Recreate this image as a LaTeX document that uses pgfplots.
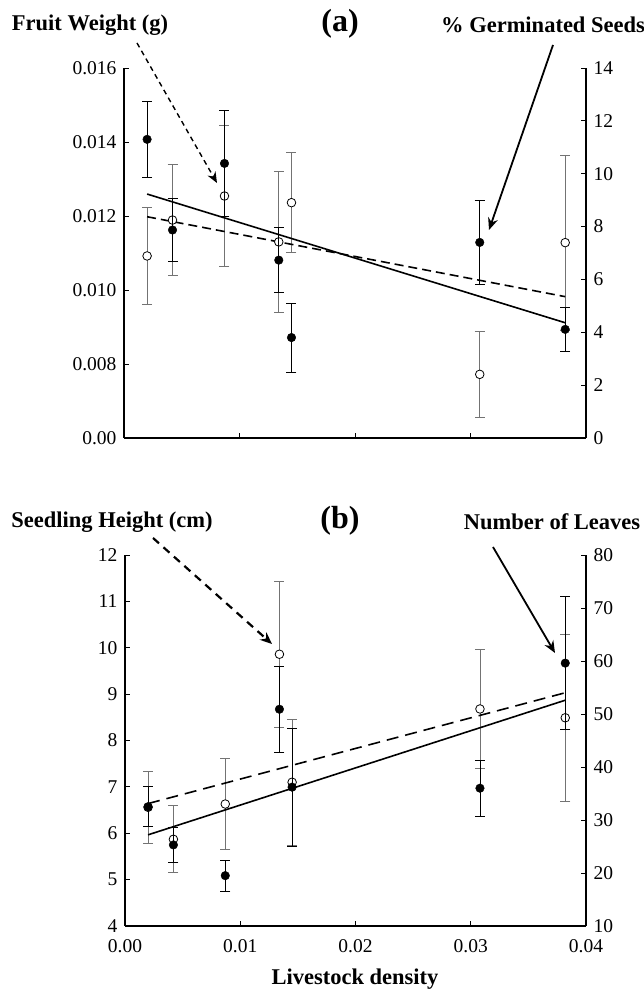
\documentclass[border=0pt]{standalone}
\usepackage{fontspec}
\setmainfont{Liberation Serif}
\usepackage{pgfplots}
\pgfplotsset{compat=1.18}
\usetikzlibrary{arrows.meta}

\pgfplotsset{
  panel/.style={
    scale only axis, width=462pt, height=370pt,
    xmin=0, xmax=0.04,
    anchor=south west,
    axis line style={line width=1.4pt, -},
    tick style={black, line width=0.8pt},
    major tick length=5pt,
    tick label style={font=\fontsize{19.5}{19.5}\selectfont},
    /pgf/number format/assume math mode=true,
    scaled ticks=false,
    clip=false,
  },
  openpts/.style={only marks, mark=*, mark size=4.3pt,
    mark options={fill=white, draw=black, line width=0.8pt},
    error bars/.cd, y dir=both, y explicit,
    error bar style={line width=0.8pt, black!55},
    error mark options={rotate=90, mark size=5pt, line width=0.8pt, black!55}},
  fullpts/.style={only marks, mark=*, mark size=4.3pt,
    mark options={fill=black, draw=black},
    error bars/.cd, y dir=both, y explicit,
    error bar style={line width=0.8pt, black},
    error mark options={rotate=90, mark size=5pt, line width=0.8pt, black}},
  leftax/.style={axis x line*=bottom, axis y line*=left,
    yticklabel style={xshift=-4pt}, xticklabel style={yshift=-10pt}},
  rightax/.style={axis x line=none, axis y line*=right,
    yticklabel style={xshift=4pt}},
}

\begin{document}
\begin{tikzpicture}[x=1pt,y=1pt]
\useasboundingbox (0,0) rectangle (644,990);

% ---------- panel (a) ----------
\begin{axis}[panel, leftax, at={(124pt,552pt)},
  ymin=0.006, ymax=0.016,
  ytick={0.006,0.008,0.010,0.012,0.014,0.016},
  yticklabels={0.00,0.008,0.010,0.012,0.014,0.016},
  xtick={0.01,0.02,0.03}, xticklabels={},
]
\addplot[openpts] coordinates {
  (0.0020,0.01092) +- (0,0.0013)
  (0.0042,0.01189) +- (0,0.0015)
  (0.0087,0.01254) +- (0,0.0019)
  (0.0134,0.01130) +- (0,0.0019)
  (0.0145,0.01236) +- (0,0.00135)
  (0.0308,0.00772) +- (0,0.00115)
  (0.0382,0.01128) +- (0,0.00237)
};
\addplot[black, line width=1.6pt, dash pattern=on 9pt off 5pt, no markers]
  coordinates {(0.0020,0.01198) (0.0382,0.00982)};
\end{axis}
\begin{axis}[panel, rightax, at={(124pt,552pt)},
  ymin=0, ymax=14, ytick={0,2,...,14},
]
\addplot[fullpts] coordinates {
  (0.0020,11.30) +- (0,1.43)
  (0.0042,7.87) +- (0,1.2)
  (0.0087,10.39) +- (0,2.02)
  (0.0134,6.73) +- (0,1.23)
  (0.0145,3.80) +- (0,1.3)
  (0.0308,7.40) +- (0,1.6)
  (0.0382,4.11) +- (0,0.85)
};
\addplot[black, line width=1.6pt, no markers]
  coordinates {(0.0020,9.23) (0.0382,4.36)};
\end{axis}

% ---------- panel (b) ----------
\begin{axis}[panel, leftax, at={(125pt,64pt)}, width=461pt, height=371pt,
  ymin=4, ymax=12, ytick={4,5,...,12},
  xtick={0,0.01,0.02,0.03,0.04},
  xticklabels={0.00,0.01,0.02,0.03,0.04},
]
\addplot[openpts] coordinates {
  (0.0020,6.56) +- (0,0.77)
  (0.0042,5.87) +- (0,0.72)
  (0.0087,6.63) +- (0,0.98)
  (0.0134,9.86) +- (0,1.57)
  (0.0145,7.10) +- (0,1.36)
  (0.0308,8.68) +- (0,1.28)
  (0.0382,8.49) +- (0,1.80)
};
\addplot[black, line width=1.6pt, dash pattern=on 12pt off 7pt, no markers]
  coordinates {(0.0020,6.64) (0.0382,9.03)};
\end{axis}
\begin{axis}[panel, rightax, at={(125pt,64pt)}, width=461pt, height=371pt,
  ymin=10, ymax=80, ytick={10,20,...,80},
]
\addplot[fullpts] coordinates {
  (0.0020,32.5) +- (0,3.8)
  (0.0042,25.3) +- (0,3.3)
  (0.0087,19.5) +- (0,2.9)
  (0.0134,50.9) +- (0,8.1)
  (0.0145,36.2) +- (0,11.1)
  (0.0308,36.0) +- (0,5.3)
  (0.0382,59.6) +- (0,12.6)
};
\addplot[black, line width=1.6pt, no markers]
  coordinates {(0.0020,27.2) (0.0382,52.6)};
\end{axis}

% titles and arrows
\begin{scope}[font=\fontsize{22.5}{22.5}\selectfont\bfseries]
\node at (90,965) {Fruit Weight (g)};
\node at (543,965) {\% Germinated Seeds};
\node at (112,468) {Seedling Height (cm)};
\node at (552,468) {Number of Leaves};
\node at (355,11) {Livestock density};
\node[font=\fontsize{32}{32}\selectfont\bfseries] at (340,966) {(a)};
\node[font=\fontsize{32}{32}\selectfont\bfseries] at (340,469) {(b)};
\end{scope}
\draw[line width=1.4pt, dash pattern=on 5pt off 4pt, -{Stealth[length=11pt,width=9pt]}] (137,947) -- (217,807);
\draw[line width=1.8pt, -{Stealth[length=12pt,width=10pt]}] (553,945) -- (489,760);
\draw[line width=2.2pt, dash pattern=on 8pt off 6pt, -{Stealth[length=12pt,width=10pt]}] (153,452) -- (272,346);
\draw[line width=1.8pt, -{Stealth[length=12pt,width=10pt]}] (493,443) -- (555,337);
\end{tikzpicture}
\end{document}
